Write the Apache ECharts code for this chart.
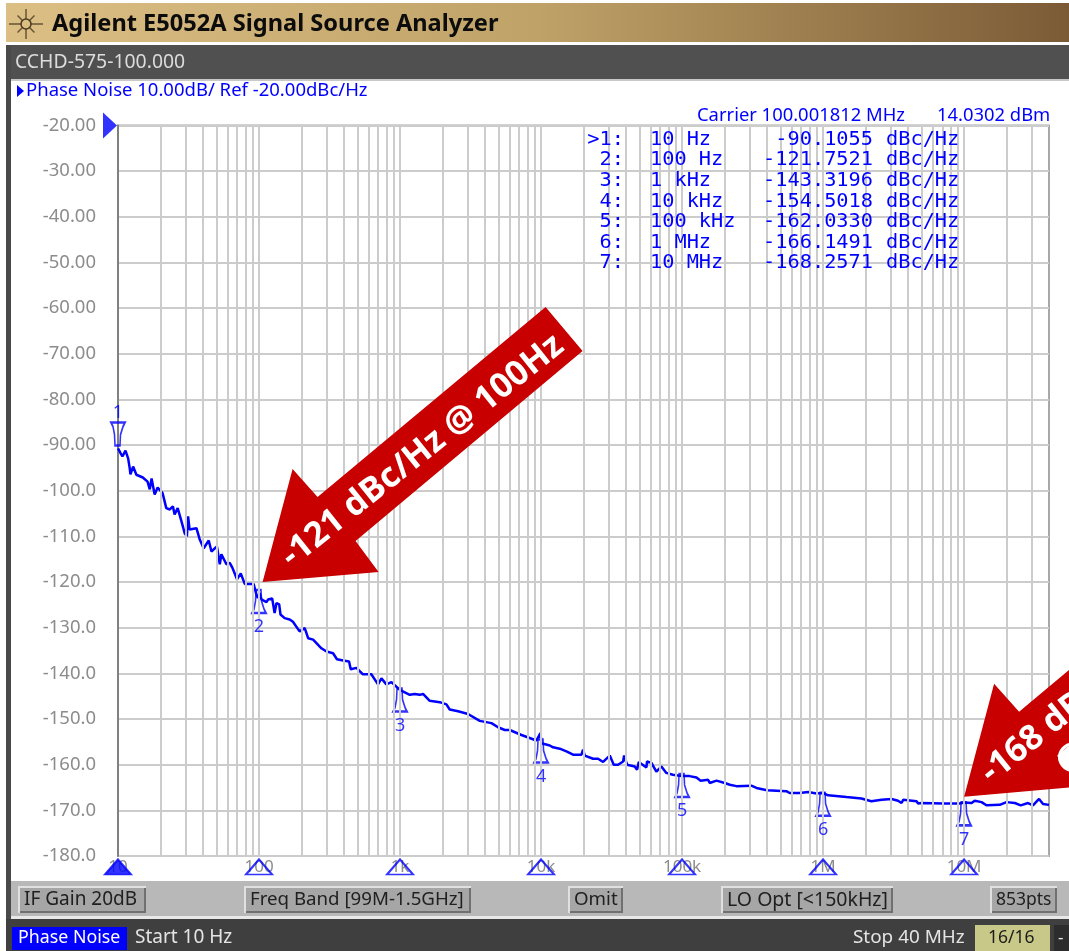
<!DOCTYPE html>
<html>
<head>
<meta charset="utf-8">
<title>E5052A Phase Noise</title>
<script src="https://cdn.jsdelivr.net/npm/echarts@6/dist/echarts.min.js"></script>
<style>
  html, body { margin: 0; padding: 0; background: #fff; overflow: hidden; }
  #chart { width: 1069px; height: 951px; }
</style>
</head>
<body>
<div id="chart"></div>
<script>
// trace, Hz / dBc/Hz
const traceFreq = [
  10, 10.45, 10.75, 11.3, 11.8, 12.1, 12.25, 12.8, 13.5, 15, 16.2, 16.8, 17.3, 18.2, 19.1, 20.7, 22, 23.3, 24.5, 25.2,
  26.5, 28.2, 29.7, 30.8, 31.4, 32.2, 36, 38, 40.5, 44, 46, 50.3, 52.7, 54.1, 58.7, 62, 64.8, 69.8, 74.2, 79.2,
  91.5, 95.8, 98, 101, 104, 113, 116, 124, 129, 133, 139, 142, 152, 165, 174, 194, 211, 223, 242, 277,
  301, 335, 357, 395, 435, 447, 491, 546, 626, 698, 738, 800, 869, 997, 1172, 1271, 1379, 1456, 1624, 1911,
  2133, 2250, 2580, 3036, 3675, 4447, 4957, 5530, 6000, 7260, 9270, 9900, 10070, 11530, 12170, 13570, 15140, 16860, 19340, 19860,
  20400, 23380, 25370, 27530, 30720, 32770, 35190, 38190, 38820, 40740, 46190, 47960, 49320, 55880, 56450, 60640, 65700, 71400, 77300, 86000,
  99000, 113000, 126500, 135500, 152900, 157200, 175400, 200800, 218000, 243000, 310000, 337000, 400000, 549000, 579000, 684000, 782000, 897000, 1000000, 1085000,
  1465000, 1870000, 2200000, 2600000, 3060000, 3400000, 3600000, 3700000, 4600000, 4720000, 4990000, 7100000, 7200000, 9300000, 10000000, 11300000, 11900000, 13300000, 14400000, 17900000,
  20000000, 22900000, 25200000, 28400000, 30800000, 34000000, 36300000, 40000000
]
const traceDb = [
  -90.7, -91.8, -92.5, -91.2, -92.9, -95.0, -96.4, -94.7, -96.5, -97.1, -98.0, -99.7, -97.3, -100.8, -99.3, -100.5, -103.8, -104.1, -103.4, -105.2,
  -103.8, -106.7, -109.3, -110.0, -105.6, -108.5, -108.2, -110.7, -112.6, -110.9, -113.3, -112.2, -116.1, -113.9, -116.1, -115.8, -116.9, -119.4, -118.1, -120.4,
  -120.4, -122.7, -123.5, -122.4, -123.8, -124.4, -123.8, -123.6, -126.8, -124.6, -124.9, -127.1, -127.9, -128.2, -128.7, -130.8, -130.1, -132.3, -132.6, -134.5,
  -135.2, -135.6, -136.9, -137.2, -137.4, -139.1, -138.8, -140.2, -140.2, -142.4, -141.1, -142.4, -141.9, -143.6, -144.7, -144.5, -144.7, -144.5, -146.0, -146.3,
  -146.8, -147.9, -148.3, -148.9, -150.4, -150.9, -151.8, -152.4, -152.4, -153.5, -154.7, -153.1, -155.3, -155.8, -156.2, -156.5, -157.1, -157.8, -157.8, -156.7,
  -158.0, -158.7, -158.7, -159.4, -158.0, -160.0, -160.0, -159.3, -158.0, -160.0, -160.4, -161.1, -159.4, -160.6, -159.3, -159.6, -161.5, -160.4, -161.8, -162.2,
  -162.5, -162.5, -162.8, -163.5, -163.3, -164.0, -163.5, -164.0, -164.4, -164.7, -164.6, -165.1, -165.6, -165.8, -166.2, -166.2, -166.0, -166.3, -166.2, -166.7,
  -167.1, -167.4, -168.0, -167.7, -167.5, -167.9, -168.4, -167.7, -168.0, -168.5, -168.4, -168.5, -168.9, -168.5, -168.3, -168.4, -167.9, -168.2, -168.9, -168.8,
  -168.2, -168.4, -168.9, -168.4, -168.9, -167.5, -168.6, -168.8
]

const markerFreq = [10, 100, 1000, 10000, 100000, 1000000, 10000000]
const markerNames = ['>1:', '2:', '3:', '4:', '5:', '6:', '7:']
const markerNumbers = ['1', '2', '3', '4', '5', '6', '7']
const markerFreqLabels = ['10 Hz', '100 Hz', '1 kHz', '10 kHz', '100 kHz', '1 MHz', '10 MHz']
const markerDb = [-90.1055, -121.7521, -143.3196, -154.5018, -162.0330, -166.1491, -168.2571]

const xTickFreq = [10, 100, 1000, 10000, 100000, 1000000, 10000000]
const xTickLabels = ['10', '100', '1k', '10k', '100k', '1M', '10M']
const yTickLabels = ['-20.00', '-30.00', '-40.00', '-50.00', '-60.00', '-70.00', '-80.00', '-90.00', '-100.0',
  '-110.0', '-120.0', '-130.0', '-140.0', '-150.0', '-160.0', '-170.0', '-180.0']
const gridMultiples = [2, 3, 4, 5, 6, 7, 8, 9, 10]

// arrow tips sit on the trace, in data units
const arrowTipA = [106, -120.0]
const arrowTipB = [10000000, -167.0]

const BLUE = '#0000ff'
const UI_FONT = '"Noto Sans", sans-serif'
const MONO_FONT = '"DejaVu Sans Mono", monospace'

const gridFreqs = []
xTickFreq.forEach(d => gridMultiples.forEach(m => {
  if (d * m < 40000000) gridFreqs.push(d * m)
}))

const chart = echarts.init(document.getElementById('chart'), null, { renderer: 'canvas' })

const markerDown = 'path://M4 0L9 0L9.5 11L12 19L14 23L0 23L2 19L3.5 11Z'
const markerUp = 'path://M0 0L14 0L12 4L9.5 12L9 23L4 23L3.5 12L2 4Z'

chart.setOption({
  animation: false,
  grid: {
    left: 118, right: 20, top: 125.5, bottom: 95,
    show: true, borderColor: '#a8a8a8', borderWidth: 2
  },
  xAxis: {
    type: 'log',
    logBase: 10,
    min: 10,
    max: 40000000,
    axisLine: { show: false },
    axisTick: { show: false },
    splitLine: { show: false },
    minorTick: { show: false },
    axisLabel: {
      color: '#8c8c8c',
      fontFamily: UI_FONT,
      fontSize: 17,
      margin: 3,
      showMaxLabel: false,
      formatter: v => {
        const i = xTickFreq.findIndex(f => Math.abs(f - v) < f * 0.01)
        return i >= 0 ? xTickLabels[i] : ''
      }
    }
  },
  yAxis: {
    type: 'value',
    min: -180,
    max: -20,
    interval: 10,
    axisLine: { show: true, lineStyle: { color: '#808080', width: 2 } },
    axisTick: { show: false },
    splitLine: { show: true, lineStyle: { color: '#cccccc', width: 2 } },
    axisLabel: {
      margin: 22,
      fontFamily: UI_FONT,
      fontSize: 18.5,
      padding: [3, 0, 0, 0],
      color: v => (v === -20 ? BLUE : '#8c8c8c'),
      formatter: v => yTickLabels[Math.round((-20 - v) / 10)]
    }
  },
  series: [
    {
      name: 'log grid',
      type: 'line',
      data: [],
      z: 1,
      silent: true,
      markLine: {
        silent: true,
        animation: false,
        symbol: 'none',
        label: { show: false },
        lineStyle: { color: '#cccccc', width: 2, type: 'solid' },
        data: gridFreqs.map(f => ({ xAxis: f }))
      }
    },
    {
      name: 'Phase Noise',
      type: 'line',
      data: traceFreq.map((f, i) => [f, traceDb[i]]),
      showSymbol: false,
      z: 3,
      lineStyle: { color: BLUE, width: 2.5 },
      itemStyle: { color: BLUE }
    },
    {
      name: 'markers',
      type: 'scatter',
      clip: false,
      z: 4,
      data: markerFreq.map((f, i) => ({
        value: [f, markerDb[i]],
        symbol: i === 0 ? markerUp : markerDown,
        symbolOffset: i === 0 ? [0, '-50%'] : [0, '50%']
      })),
      symbolSize: [14, 23],
      itemStyle: { color: 'rgba(0,0,0,0)', borderColor: BLUE, borderWidth: 2 }
    },
    {
      // path symbols squash their labels, so the numbers hang off a plain dot
      name: 'marker numbers',
      type: 'scatter',
      clip: false,
      z: 5,
      symbol: 'circle',
      symbolSize: 1,
      itemStyle: { color: 'rgba(0,0,0,0)' },
      data: markerFreq.map((f, i) => ({
        value: [f, markerDb[i]],
        label: {
          show: true,
          position: 'inside',
          offset: [0, i === 0 ? -33 : 37],
          formatter: markerNumbers[i],
          color: BLUE,
          fontFamily: UI_FONT,
          fontSize: 18
        }
      }))
    },
    {
      name: 'stimulus markers',
      type: 'scatter',
      clip: false,
      z: 4,
      data: xTickFreq.map((f, i) => ({
        value: [f, -180],
        itemStyle: i === 0 ? { color: BLUE } : undefined
      })),
      symbol: 'triangle',
      symbolSize: [26, 15],
      symbolOffset: [0, 11],
      itemStyle: { color: 'rgba(0,0,0,0)', borderColor: BLUE, borderWidth: 2 }
    },
    {
      name: 'reference level',
      type: 'scatter',
      clip: false,
      z: 4,
      data: [[10, -20]],
      symbol: 'path://M0 0L14 13L0 26Z',
      symbolSize: [14, 26],
      symbolOffset: [-8, 0],
      itemStyle: { color: BLUE }
    }
  ]
})

// window furniture and annotations, drawn with the graphic component
const text = (x, y, str, color, size, extra) => ({
  type: 'text',
  x, y,
  z: 60,
  silent: true,
  style: Object.assign({
    text: str,
    fill: color,
    font: size + 'px ' + UI_FONT,
    verticalAlign: 'middle'
  }, extra || {})
})
const box = (x, y, width, height, fill, z) => ({
  type: 'rect',
  z: z || 55,
  silent: true,
  shape: { x, y, width, height },
  style: { fill }
})
const softkey = (x, width, label, size) => [
  box(x, 886, width, 27, '#e0e0e0', 56),
  box(x + 2, 888, width - 2, 25, '#707070', 56),
  box(x + 2, 888, width - 4, 23, '#a6a6a6', 57),
  text(x + 6, 900, label, '#202020', size)
]
const ray = (angle, len) => ({
  type: 'line',
  z: 60,
  silent: true,
  shape: {
    x1: 26 + 5 * Math.cos(angle), y1: 24 + 5 * Math.sin(angle),
    x2: 26 + len * Math.cos(angle), y2: 24 + len * Math.sin(angle)
  },
  style: { stroke: '#4a3a20', lineWidth: 1.5, opacity: 0.8 }
})

const elements = [
  {
    type: 'rect',
    z: 55,
    silent: true,
    shape: { x: 6, y: 3, width: 1063, height: 39 },
    style: {
      fill: new echarts.graphic.LinearGradient(0, 0, 1, 0, [
        { offset: 0, color: '#dcbf84' },
        { offset: 0.5, color: '#bfa268' },
        { offset: 1, color: '#7b5b36' }
      ])
    }
  },
  box(6, 45, 1063, 34, '#505050'),
  box(6, 45, 5, 906, '#4a4a4a'),
  box(11, 79, 1058, 2, '#c8c8c8'),
  box(11, 881, 1058, 35, '#b8b8b8'),
  box(11, 916, 1058, 3, '#e8e8e8'),
  box(6, 919, 1063, 32, '#3f3f3f'),
  box(12, 927, 115, 23, '#0000ff', 56),
  box(975, 925, 75, 26, '#c8c888', 56),
  box(1054, 925, 15, 26, '#2c2c2c', 56),
  {
    type: 'circle',
    z: 60,
    silent: true,
    shape: { cx: 26, cy: 24, r: 5 },
    style: { fill: 'none', stroke: '#4a3a20', lineWidth: 1.5 }
  },
  ray(0, 17), ray(Math.PI, 17), ray(Math.PI / 2, 15), ray(-Math.PI / 2, 15),
  ray(Math.PI / 4, 12), ray(-Math.PI / 4, 12), ray(3 * Math.PI / 4, 12), ray(-3 * Math.PI / 4, 12),
  text(52, 24, 'Agilent E5052A Signal Source Analyzer', '#0c0c0c', 23.6, { font: 'bold 23.6px ' + UI_FONT }),
  text(15, 62, 'CCHD-575-100.000', '#dcdcdc', 19.4),
  {
    type: 'polygon',
    z: 60,
    silent: true,
    shape: { points: [[17, 85], [24, 91], [17, 97]] },
    style: { fill: BLUE }
  },
  text(26, 91, 'Phase Noise 10.00dB/ Ref -20.00dBc/Hz', BLUE, 18.5),
  text(697, 116, 'Carrier 100.001812 MHz', BLUE, 18.4),
  text(937, 116, '14.0302 dBm', BLUE, 18.4),
  text(18, 938, 'Phase Noise', '#ffffff', 17.8),
  text(135, 938, 'Start 10 Hz', '#e4e4e4', 19),
  text(853, 938, 'Stop 40 MHz', '#e4e4e4', 18.9),
  text(988, 938, '16/16', '#1c1c1c', 17.5),
  text(1058, 938, '-', '#e4e4e4', 17),
  ...softkey(18, 128, 'IF Gain 20dB', 19),
  ...softkey(244, 227, 'Freq Band [99M-1.5GHz]', 18.7),
  ...softkey(568, 55, 'Omit', 18.7),
  ...softkey(721, 172, 'LO Opt [<150kHz]', 19.5),
  ...softkey(990, 67, '853pts', 17.5)
]

// marker table, one row per marker
markerNames.forEach((name, i) => {
  const y = 139.3 + i * 20.65
  const mono = { font: '20.3px ' + MONO_FONT }
  elements.push(text(624, y, name, BLUE, 20, Object.assign({ align: 'right' }, mono)))
  elements.push(text(650, y, markerFreqLabels[i], BLUE, 20, mono))
  elements.push(text(873, y, markerDb[i].toFixed(4), BLUE, 20, Object.assign({ align: 'right' }, mono)))
  elements.push(text(886, y, 'dBc/Hz', BLUE, 20, mono))
})

// arrows keep their shape, the tip comes from the axes
const arrow = tip => ({
  type: 'polygon',
  z: 70,
  silent: true,
  shape: {
    points: [
      [tip[0], tip[1]], [tip[0] + 30, tip[1] - 113], [tip[0] + 55, tip[1] - 85],
      [tip[0] + 283, tip[1] - 275], [tip[0] + 320, tip[1] - 231], [tip[0] + 93, tip[1] - 41], [tip[0] + 116, tip[1] - 10]
    ]
  },
  style: { fill: '#c80000' }
})
const arrowText = (x, y, str, align) => ({
  type: 'text',
  x, y,
  z: 71,
  silent: true,
  rotation: 0.675,
  style: {
    text: str,
    fill: '#ffffff',
    font: 'bold 34.5px "Open Sans", sans-serif',
    align,
    verticalAlign: 'middle'
  }
})

const tipA = chart.convertToPixel({ xAxisIndex: 0, yAxisIndex: 0 }, arrowTipA)
const tipB = chart.convertToPixel({ xAxisIndex: 0, yAxisIndex: 0 }, arrowTipB)
elements.push(arrow(tipA), arrowText(tipA[0] + 160, tipA[1] - 131, '-121 dBc/Hz @ 100Hz', 'center'))
elements.push(arrow(tipB), arrowText(tipB[0] + 21, tipB[1] - 20, '-168 dBc/Hz', 'left'))
elements.push(arrowText(tipB[0] + 96, tipB[1] - 29, '@ 10MHz', 'left'))

chart.setOption({ graphic: { elements } })
</script>
</body>
</html>
